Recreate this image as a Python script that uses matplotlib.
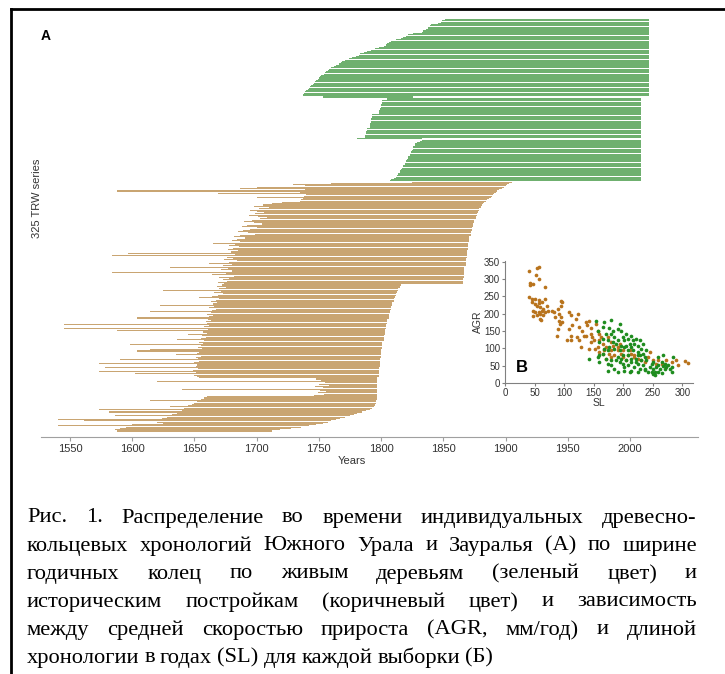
import numpy as np
import matplotlib.pyplot as plt
from matplotlib.lines import Line2D

# ---- panel A: start / end years of the 325 TRW series (top row first) ----
green1_start = [1851, 1849, 1848, 1846, 1840, 1839, 1838, 1838, 1836, 1834,
                1833, 1826, 1822, 1820, 1818, 1816, 1812, 1808, 1806, 1805,
                1804, 1802, 1798, 1795, 1792, 1789, 1786, 1783, 1782, 1780,
                1777, 1774, 1771, 1769, 1768, 1766, 1764, 1762, 1760, 1758,
                1757, 1756, 1755, 1754, 1752, 1751, 1750, 1749, 1748, 1747,
                1746, 1745, 1744, 1743, 1742, 1741, 1740, 1739, 1738, 1737,
                1737]
green1_end = [2015] * 61

green2_start = [1753, 1805, 1805, 1801, 1801, 1801, 1800, 1800, 1800, 1799,
                1799, 1798, 1798, 1798, 1793, 1793, 1793, 1792, 1792, 1792,
                1792, 1791, 1791, 1791, 1791, 1789, 1789, 1788, 1788, 1788,
                1787, 1787, 1787, 1781,
                1833, 1831, 1829, 1827, 1827, 1826, 1826, 1826, 1825, 1824,
                1824, 1823, 1823, 1822, 1822, 1821, 1820, 1820, 1819, 1819,
                1818, 1818, 1817, 1816, 1815, 1815, 1814, 1814, 1813, 1812,
                1810, 1808, 1807]
green2_end = [1826] + [2009] * 32 + [1833] + [2009] * 33

brown_start = [1825, 1760, 1729, 1739, 1700, 1687, 1739, 1588, 1735, 1669,
               1740, 1738, 1700, 1737, 1736, 1735,
               1720, 1712, 1705, 1698, 1710, 1702, 1695, 1700, 1706, 1699,
               1694, 1701, 1708, 1703, 1696, 1690, 1698, 1704, 1692, 1688,
               1700, 1695, 1689, 1685, 1693, 1699, 1687, 1682, 1691, 1684,
               1680, 1687, 1665, 1683, 1678, 1686, 1681, 1677, 1685, 1679,
               1597, 1683, 1584, 1676, 1681, 1674, 1684, 1678, 1662, 1680,
               1673, 1630, 1677, 1671, 1680, 1584, 1675, 1664, 1682, 1670,
               1678, 1673, 1676, 1669, 1674,
               1672, 1668, 1675, 1670, 1625, 1671, 1666, 1673, 1669, 1664,
               1654, 1670, 1667, 1663, 1668, 1665, 1622, 1666, 1662, 1667,
               1664, 1614, 1663, 1660, 1665, 1662, 1604, 1661, 1663, 1659,
               1660, 1545, 1662, 1658, 1545, 1661, 1588, 1657, 1660, 1645,
               1656, 1659, 1655, 1636, 1658, 1654, 1657, 1598, 1655, 1653,
               1656, 1614, 1604, 1654, 1652, 1635, 1655, 1651, 1653, 1590,
               1654, 1650, 1573, 1652, 1651, 1578, 1653, 1649, 1573, 1651,
               1602, 1650, 1652, 1654, 1748,
               1752, 1620, 1755, 1750, 1758, 1747, 1753, 1640, 1751, 1756,
               1749, 1754, 1746,
               1660, 1658, 1655, 1614, 1652, 1650, 1648, 1645, 1630, 1642,
               1573, 1640, 1581, 1636, 1632, 1586, 1628, 1624, 1540, 1561,
               1620, 1625, 1600, 1540, 1595, 1590, 1586, 1588]
brown_end = [1905, 1903, 1901, 1900, 1899, 1897, 1895, 1893, 1892, 1891,
             1890, 1889, 1888, 1887, 1885, 1884,
             1883, 1882, 1881, 1880, 1880, 1879, 1879, 1878, 1878, 1877,
             1877, 1876, 1876, 1876, 1875, 1875, 1875, 1874, 1874, 1874,
             1873, 1873, 1873, 1872, 1872, 1872, 1872, 1871, 1871, 1871,
             1871, 1871, 1870, 1870, 1870, 1870, 1870, 1870, 1869, 1869,
             1869, 1869, 1869, 1869, 1868, 1868, 1868, 1868, 1868, 1868,
             1868, 1867, 1867, 1867, 1867, 1867, 1867, 1867, 1867, 1867,
             1866, 1866, 1866, 1866, 1866,
             1816, 1815, 1815, 1814, 1814, 1813, 1813, 1812, 1812, 1811,
             1811, 1810, 1810, 1810, 1809, 1809, 1809, 1808, 1808, 1808,
             1807, 1807, 1807, 1806, 1806, 1806, 1806, 1805, 1805, 1805,
             1805, 1804, 1804, 1804, 1804, 1803, 1803, 1803, 1803, 1803,
             1802, 1802, 1802, 1802, 1802, 1801, 1801, 1801, 1801, 1801,
             1801, 1800, 1800, 1800, 1800, 1800, 1800, 1800, 1799, 1799,
             1799, 1799, 1799, 1799, 1799, 1798, 1798, 1798, 1798, 1798,
             1798, 1798, 1798, 1797, 1797,
             1797, 1797, 1797, 1797, 1797, 1797, 1797, 1797, 1797, 1797,
             1797, 1797, 1797,
             1797, 1797, 1797, 1796, 1796, 1796, 1795, 1795, 1794, 1793,
             1791, 1788, 1785, 1781, 1778, 1775, 1771, 1767, 1764, 1760,
             1757, 1753, 1748, 1742, 1736, 1728, 1719, 1712]

year_ticks = [1550, 1600, 1650, 1700, 1750, 1800, 1850, 1900, 1950, 2000]

# ---- panel B: series length (SL) vs average growth rate (AGR) ----
hist_sl = [40, 57, 54, 53, 57, 43, 48, 42, 68, 40, 46, 51, 57, 63, 68, 46, 50, 54,
           57, 60, 65, 71, 47, 51, 57, 63, 68, 72, 60, 54, 60, 61, 64, 48, 80, 83,
           94, 97, 95, 89, 91, 94, 85, 91, 93, 89, 88, 97, 108, 111, 114, 108, 111,
           105, 111, 120, 124, 125, 131, 137, 139, 142, 145, 145, 137, 122, 125,
           128, 134, 148, 151, 145, 142, 154, 157, 159, 162, 159, 165, 157, 152,
           159, 168, 171, 165, 174, 179, 182, 179, 185, 191, 191, 194, 179, 176,
           171, 196, 199, 205, 208, 213, 219, 225, 230, 236, 242, 245, 250, 256,
           259, 265, 273, 282, 290, 292, 304, 310, 211, 219, 199]
hist_agr = [322, 334, 332, 313, 300, 288, 286, 283, 276, 249, 243, 243, 240, 233,
            243, 233, 228, 223, 230, 219, 214, 223, 209, 204, 206, 209, 204, 207,
            199, 195, 185, 182, 195, 192, 209, 204, 238, 233, 223, 214, 199, 190,
            190, 180, 171, 156, 137, 175, 204, 195, 166, 156, 137, 123, 123, 185,
            199, 161, 151, 175, 166, 180, 159, 142, 137, 132, 123, 104, 137, 132,
            123, 118, 99, 171, 151, 142, 132, 123, 113, 104, 99, 89, 94, 104, 84,
            132, 118, 108, 94, 80, 94, 104, 113, 75, 84, 70, 84, 75, 65, 80, 84,
            75, 70, 65, 60, 75, 89, 65, 56, 67, 56, 65, 60, 67, 51, 63, 58, 94,
            80, 94]
live_sl = [154, 157, 165, 168, 179, 176, 182, 191, 194, 196, 199, 202, 205, 208,
           213, 216, 219, 222, 225, 228, 230, 233, 225, 213, 208, 202, 196, 191,
           185, 182, 176, 174, 168, 165, 159, 157, 159, 142, 171, 174, 179, 185,
           188, 191, 194, 199, 202, 205, 208, 211, 213, 219, 222, 225, 228, 230,
           233, 236, 242, 245, 248, 250, 253, 256, 259, 262, 265, 267, 270, 273,
           276, 279, 282, 285, 267, 259, 250, 248, 159, 165, 171, 185, 194, 208,
           225, 236, 239, 174, 179, 188, 199, 205, 211, 216, 222, 228, 233, 239,
           174, 191, 202, 213, 225, 236, 250, 254, 259, 265, 270, 282, 179, 196,
           213]
live_agr = [178, 151, 163, 175, 182, 159, 151, 156, 171, 151, 132, 123, 142, 128,
            137, 123, 113, 128, 108, 123, 99, 113, 89, 104, 94, 104, 108, 123, 132,
            118, 104, 94, 99, 84, 80, 75, 60, 70, 70, 56, 51, 41, 65, 75, 60, 56,
            46, 65, 51, 32, 60, 46, 60, 56, 41, 65, 51, 41, 32, 46, 56, 41, 32, 46,
            51, 41, 60, 48, 56, 46, 51, 41, 46, 75, 80, 75, 60, 32, 118, 128, 142,
            99, 94, 80, 80, 75, 65, 123, 142, 113, 80, 108, 113, 94, 70, 80, 84,
            94, 36, 32, 35, 36, 32, 38, 27, 22, 32, 29, 41, 32, 65, 70, 70]

caption_lines = [
    "Рис. 1. Распределение во времени индивидуальных древесно-",
    "кольцевых хронологий Южного Урала и Зауралья (А) по ширине",
    "годичных колец по живым деревьям (зеленый цвет) и",
    "историческим постройкам (коричневый цвет) и зависимость",
    "между средней скоростью прироста (AGR, мм/год) и длиной",
    "хронологии в годах (SL) для каждой выборки (Б)",
]

W, H = 725, 674
GREEN = '#6fb06f'
BROWN = '#c9a572'
AXC = '#a0a0a0'
TXT = '#333333'

plt.rcParams['font.family'] = ['Liberation Sans', 'DejaVu Sans']
fig = plt.figure(figsize=(W / 100, H / 100), dpi=100)


def box(x0, y0, x1, y1):
    # pixel box (top-left origin) -> figure fraction rect
    return [x0 / W, 1 - y1 / H, (x1 - x0) / W, (y1 - y0) / H]


# ---- panel A ----
ax = fig.add_axes(box(41, 15, 698, 437))
starts = np.array(green1_start + green2_start + brown_start, dtype=float)
ends = np.array(green1_end + green2_end + brown_end, dtype=float)
colors = [GREEN] * (len(green1_start) + len(green2_start)) + [BROWN] * len(brown_start)
n = len(starts)
ypos = np.arange(n)[::-1]
ax.barh(ypos, ends - starts, left=starts, height=0.85, color=colors, linewidth=0)

ax.set_xlim(1526.7, 2054.7)
ax.set_ylim(-4.7, n + 2.6)
ax.set_xticks(year_ticks)
ax.set_yticks([])
for s in ['top', 'right', 'left']:
    ax.spines[s].set_visible(False)
ax.spines['bottom'].set_color(AXC)
ax.tick_params(axis='x', colors=AXC, labelcolor=TXT, labelsize=8, length=3, pad=2)
ax.set_xlabel('Years', fontsize=8, color=TXT)
ax.xaxis.set_label_coords((352 - 41) / 657, -0.045)

fig.text(37 / W, 1 - 198 / H, '325 TRW series', rotation=90, fontsize=8,
         color=TXT, ha='center', va='center')
fig.text(46 / W, 1 - 36 / H, 'A', fontsize=10, fontweight='bold', ha='center', va='center')

# ---- panel B (inset) ----
bx = fig.add_axes(box(505, 261, 693, 383))
bx.scatter(hist_sl, hist_agr, s=7, color='#b8731c', linewidths=0, zorder=2)
bx.scatter(live_sl, live_agr, s=7, color='#1e8c1e', linewidths=0, zorder=3)
bx.set_xlim(0, 318)
bx.set_ylim(0, 352)
bx.set_xticks([0, 50, 100, 150, 200, 250, 300])
bx.set_yticks([0, 50, 100, 150, 200, 250, 300, 350])
for s in ['top', 'right']:
    bx.spines[s].set_visible(False)
for s in ['bottom', 'left']:
    bx.spines[s].set_color('#808080')
bx.tick_params(colors='#808080', labelcolor=TXT, labelsize=7, length=2, pad=1.5)
bx.set_xlabel('SL', fontsize=7.5, color=TXT, labelpad=0)
bx.set_ylabel('AGR', fontsize=7.5, color=TXT, labelpad=1)
bx.patch.set_alpha(0)
fig.text(522 / W, 1 - 368 / H, 'B', fontsize=12, fontweight='bold', ha='center', va='center')

# ---- frame ----
fig.add_artist(Line2D([11 / W, 11 / W], [0, 1 - 9 / H], color='black', lw=2))
fig.add_artist(Line2D([11 / W, 1], [1 - 9 / H, 1 - 9 / H], color='black', lw=2))

# ---- caption (justified) ----
renderer = fig.canvas.get_renderer()
x_left, x_right = 27, 697
for k, line in enumerate(caption_lines):
    words = line.split(' ')
    yy = 1 - (518 + 28 * k) / H
    texts = [fig.text(0, yy, w, fontsize=16.2, family='Liberation Serif',
                      va='center', ha='left') for w in words]
    widths = [t.get_window_extent(renderer).width for t in texts]
    if k < len(caption_lines) - 1:
        gap = (x_right - x_left - sum(widths)) / (len(words) - 1)
    else:
        gap = 5
    x = x_left
    for t, w in zip(texts, widths):
        t.set_x(x / W)
        x += w + gap

fig.savefig('out.png', dpi=100)
